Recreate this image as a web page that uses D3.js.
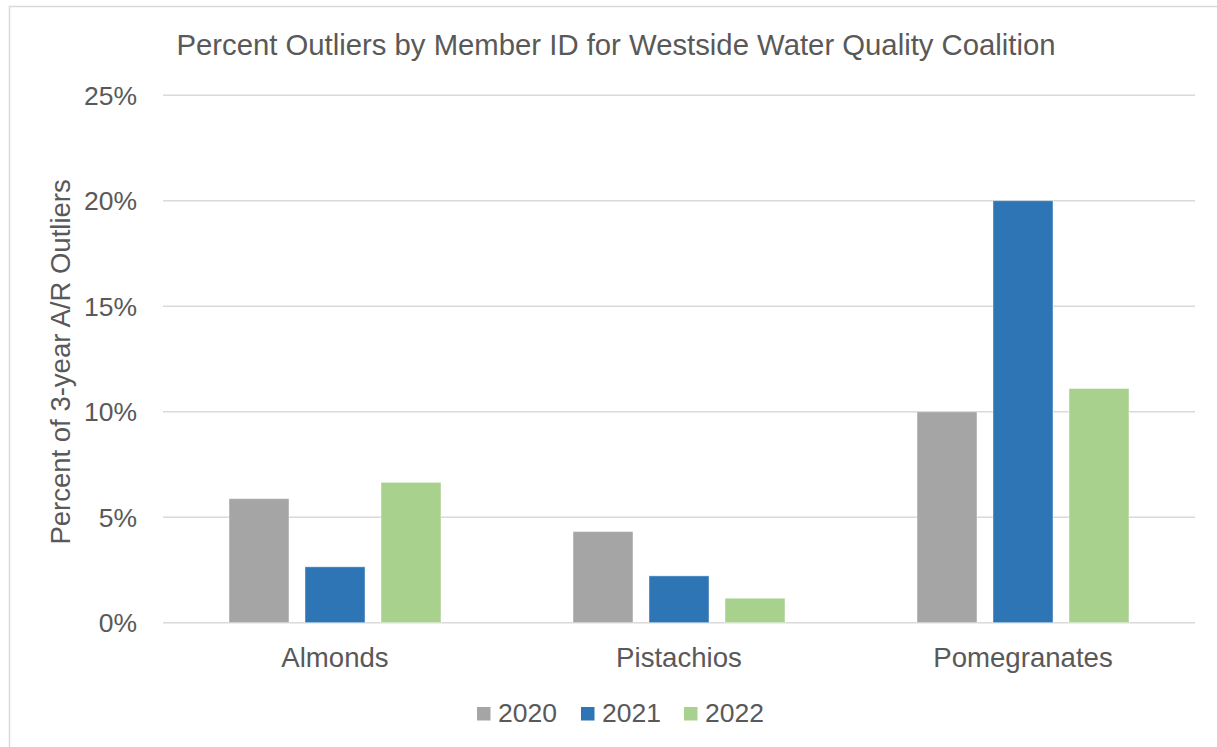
<!DOCTYPE html>
<html>
<head>
<meta charset="utf-8">
<script src="https://cdn.jsdelivr.net/npm/d3@7"></script>
<style>
  html, body { margin: 0; padding: 0; background: #fff; }
  svg { display: block; }
  text { font-family: "Liberation Sans", Arial, sans-serif; fill: #595959; }
</style>
</head>
<body>
<svg id="chart" width="1217" height="747"></svg>
<script>
// Crops and sample years
const categories = ["Almonds", "Pistachios", "Pomegranates"];
const years = ["2020", "2021", "2022"];

// Share of 3-year A/R outliers per crop, one array per year
const values2020 = [0.0588, 0.0432, 0.100];
const values2021 = [0.0265, 0.0222, 0.200];
const values2022 = [0.0665, 0.0116, 0.111];

const yTicks = [0, 0.05, 0.10, 0.15, 0.20, 0.25];
const yTickLabels = ["0%", "5%", "10%", "15%", "20%", "25%"];

const titleText = "Percent Outliers by Member ID for Westside Water Quality Coalition";
const yAxisTitle = "Percent of 3-year A/R Outliers";

const seriesColors = { "2020": "#A5A5A5", "2021": "#2E75B6", "2022": "#A9D18E" };
const seriesValues = { "2020": values2020, "2021": values2021, "2022": values2022 };

const svg = d3.select("#chart");

// Chart frame
svg.append("rect")
  .attr("x", 9.5).attr("y", 6.5)
  .attr("width", 1240).attr("height", 780)
  .attr("fill", "#fff")
  .attr("stroke", "#D9D9D9")
  .attr("stroke-width", 1.5);

const plot = { left: 163, right: 1195, top: 95.2, bottom: 622.7 };

const x0 = d3.scaleBand().domain(categories).range([plot.left, plot.right]).padding(0);
const x1 = d3.scaleBand().domain(years).range([66, 278]).paddingInner(0.2105).paddingOuter(0);
const y = d3.scaleLinear().domain([0, 0.25]).range([plot.bottom, plot.top]);

// Horizontal gridlines
svg.append("g")
  .selectAll("line")
  .data(yTicks)
  .join("line")
  .attr("x1", plot.left).attr("x2", plot.right)
  .attr("y1", d => y(d)).attr("y2", d => y(d))
  .attr("stroke", "#D9D9D9")
  .attr("stroke-width", 1.5);

// Y tick labels
svg.append("g")
  .selectAll("text")
  .data(yTicks)
  .join("text")
  .attr("x", 137)
  .attr("y", d => y(d))
  .attr("dy", "0.36em")
  .attr("text-anchor", "end")
  .attr("font-size", 26.5)
  .text((d, i) => yTickLabels[i]);

// Bars
const groups = svg.append("g")
  .selectAll("g")
  .data(categories)
  .join("g")
  .attr("transform", d => `translate(${x0(d)},0)`);

groups.selectAll("rect")
  .data((c, ci) => years.map(yr => ({ year: yr, value: seriesValues[yr][ci] })))
  .join("rect")
  .attr("x", d => x1(d.year))
  .attr("width", x1.bandwidth())
  .attr("y", d => y(d.value))
  .attr("height", d => y(0) - y(d.value))
  .attr("fill", d => seriesColors[d.year])
  .attr("stroke", "rgba(255,255,255,0.45)")
  .attr("stroke-width", 1);

// Category labels
svg.append("g")
  .selectAll("text")
  .data(categories)
  .join("text")
  .attr("x", d => x0(d) + x0.bandwidth() / 2)
  .attr("y", 667)
  .attr("text-anchor", "middle")
  .attr("font-size", 27.6)
  .text(d => d);

// Title
svg.append("text")
  .attr("x", 616)
  .attr("y", 55)
  .attr("text-anchor", "middle")
  .attr("font-size", 29.3)
  .text(titleText);

// Y axis title
svg.append("text")
  .attr("transform", `translate(70,${(plot.top + plot.bottom) / 2 + 3}) rotate(-90)`)
  .attr("text-anchor", "middle")
  .attr("font-size", 27.5)
  .text(yAxisTitle);

// Legend
const legendX = [477, 581, 684];
const legend = svg.append("g")
  .selectAll("g")
  .data(years)
  .join("g")
  .attr("transform", (d, i) => `translate(${legendX[i]},707)`);

legend.append("rect")
  .attr("width", 13.5).attr("height", 13.5)
  .attr("fill", d => seriesColors[d]);

legend.append("text")
  .attr("x", 21)
  .attr("y", 14.5)
  .attr("font-size", 26.5)
  .text(d => d);
</script>
</body>
</html>
